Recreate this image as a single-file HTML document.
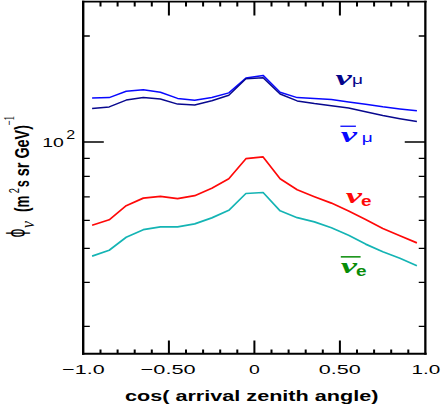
<!DOCTYPE html><html><head><meta charset="utf-8"><title>flux</title><style>html,body{margin:0;padding:0;background:#fff;font-family:"Liberation Sans",sans-serif}svg{display:block}</style></head><body>
<svg width="441" height="405" viewBox="0 0 441 405">
<rect width="441" height="405" fill="#fff"/>
<polyline points="92.1,97.9 109.2,97.6 126.2,91.3 143.3,89.8 160.4,92.2 177.6,98.4 194.7,100.3 211.8,97.5 228.8,92.9 245.9,78.1 263.1,75.4 280.1,92.3 297.2,97.6 314.4,98.4 331.4,99.5 348.6,101.9 365.6,104.3 382.8,106.8 399.9,108.9 416.9,110.7" fill="none" stroke="#0808ff" stroke-width="1.5" stroke-linejoin="round"/>
<polyline points="92.1,108.5 109.2,106.9 126.2,100.1 143.3,97.4 160.4,99.0 177.6,104.1 194.7,104.9 211.8,100.7 228.8,95.3 245.9,78.7 263.1,77.7 280.1,94.0 297.2,100.9 314.4,103.6 331.4,105.8 348.6,108.1 365.6,111.8 382.8,115.5 399.9,118.7 416.9,121.6" fill="none" stroke="#08088e" stroke-width="1.5" stroke-linejoin="round"/>
<polyline points="92.1,225.2 109.2,219.8 126.2,205.7 143.3,198.1 160.4,196.3 177.6,198.7 194.7,195.7 211.8,188.3 228.8,178.7 245.9,158.7 263.1,156.9 280.1,178.7 297.2,189.8 314.4,196.7 331.4,203.1 348.6,211.0 365.6,219.4 382.8,228.5 399.9,235.7 416.9,242.9" fill="none" stroke="#ff0808" stroke-width="1.7" stroke-linejoin="round"/>
<polyline points="92.1,256.1 109.2,250.2 126.2,237.3 143.3,229.7 160.4,226.9 177.6,226.8 194.7,223.9 211.8,217.9 228.8,210.3 245.9,193.5 263.1,192.5 280.1,210.8 297.2,217.7 314.4,221.9 331.4,227.8 348.6,235.2 365.6,244.1 382.8,251.8 399.9,258.2 416.9,265.8" fill="none" stroke="#14b4b4" stroke-width="1.7" stroke-linejoin="round"/>
<path d="M100.5 1.6v4.8M100.5 353.7v-4.3M117.6 1.6v4.8M117.6 353.7v-4.3M134.7 1.6v4.8M134.7 353.7v-4.3M151.8 1.6v4.8M151.8 353.7v-4.3M168.9 1.6v13.8M168.9 353.7v-13.3M186.0 1.6v4.8M186.0 353.7v-4.3M203.1 1.6v4.8M203.1 353.7v-4.3M220.2 1.6v4.8M220.2 353.7v-4.3M237.3 1.6v4.8M237.3 353.7v-4.3M254.4 1.6v13.8M254.4 353.7v-13.3M271.5 1.6v4.8M271.5 353.7v-4.3M288.6 1.6v4.8M288.6 353.7v-4.3M305.7 1.6v4.8M305.7 353.7v-4.3M322.8 1.6v4.8M322.8 353.7v-4.3M339.9 1.6v13.8M339.9 353.7v-13.3M357.0 1.6v4.8M357.0 353.7v-4.3M374.1 1.6v4.8M374.1 353.7v-4.3M391.2 1.6v4.8M391.2 353.7v-4.3M408.3 1.6v4.8M408.3 353.7v-4.3" stroke="#000" stroke-width="2" fill="none"/>
<path d="M83.2 36h6.6M425.35 36h-6.6M83.2 142h20.6M425.35 142h-20.6M83.2 158.3h6.6M425.35 158.3h-6.6M83.2 176.3h6.6M425.35 176.3h-6.6M83.2 196.8h6.6M425.35 196.8h-6.6M83.2 220.4h6.6M425.35 220.4h-6.6M83.2 248.3h6.6M425.35 248.3h-6.6M83.2 282.3h6.6M425.35 282.3h-6.6M83.2 326.3h6.6M425.35 326.3h-6.6" stroke="#000" stroke-width="1.3" fill="none"/>
<path d="M82.0 1.6H426.65000000000003" stroke="#000" stroke-width="1.7" fill="none"/>
<path d="M82.0 353.7H426.65000000000003" stroke="#000" stroke-width="2" fill="none"/>
<path d="M83.2 0.7500000000000001V354.7" stroke="#000" stroke-width="2.4" fill="none"/>
<path d="M425.35 0.7500000000000001V354.7" stroke="#000" stroke-width="2.3" fill="none"/>
<g font-family="Liberation Sans, sans-serif" font-size="13.5" fill="#000">
<text x="62.2" y="373.9" textLength="42.4" lengthAdjust="spacingAndGlyphs">−1.0</text>
<text x="140.7" y="373.9" textLength="55" lengthAdjust="spacingAndGlyphs">−0.50</text>
<text x="249" y="373.9" textLength="10.8" lengthAdjust="spacingAndGlyphs">0</text>
<text x="318.8" y="373.9" textLength="42" lengthAdjust="spacingAndGlyphs">0.50</text>
<text x="411.5" y="373.9" textLength="28.8" lengthAdjust="spacingAndGlyphs">1.0</text>
<text x="42.3" y="146.6" font-size="13.3" textLength="21.6" lengthAdjust="spacingAndGlyphs">10</text>
<text x="66.2" y="138.7" font-size="12" textLength="8.9" lengthAdjust="spacingAndGlyphs">2</text>
</g>
<text x="125" y="400.6" font-family="Liberation Sans, sans-serif" font-size="15.4" font-weight="bold" fill="#000" textLength="253.4" lengthAdjust="spacingAndGlyphs">cos( arrival zenith angle)</text>
<g font-family="Liberation Sans, DejaVu Sans, sans-serif" fill="#000">
<text transform="translate(24.5,237.6) rotate(-90)" font-size="26" textLength="9" lengthAdjust="spacingAndGlyphs">ϕ</text>
<text transform="translate(34.2,228) rotate(-90)" font-family="Liberation Serif, DejaVu Serif, serif" font-style="italic" font-size="18" textLength="7" lengthAdjust="spacingAndGlyphs">ν</text>
<text transform="translate(29.2,212) rotate(-90)" font-size="20" font-weight="bold" textLength="16.4" lengthAdjust="spacingAndGlyphs">(m</text>
<text transform="translate(18.5,193.2) rotate(-90)" font-size="15" textLength="5.2" lengthAdjust="spacingAndGlyphs">2</text>
<text transform="translate(29.2,187.3) rotate(-90)" font-size="20" font-weight="bold" textLength="7.1" lengthAdjust="spacingAndGlyphs">s</text>
<text transform="translate(29.2,176.2) rotate(-90)" font-size="20" font-weight="bold" textLength="51.2" lengthAdjust="spacingAndGlyphs">sr GeV)</text>
<text transform="translate(14,125.4) rotate(-90)" font-family="Liberation Serif, serif" font-size="15" textLength="9.4" lengthAdjust="spacingAndGlyphs">−1</text>
</g>
<text x="335.6" y="84.8" font-family="Liberation Serif, DejaVu Serif, serif" font-size="22" font-weight="bold" font-style="italic" fill="#04048a" textLength="16.2" lengthAdjust="spacingAndGlyphs">ν</text>
<text x="352" y="84" font-family="Liberation Sans, DejaVu Sans, sans-serif" font-size="13" fill="#04048a" textLength="11" lengthAdjust="spacingAndGlyphs">μ</text>
<text x="340.8" y="142.4" font-family="Liberation Serif, DejaVu Serif, serif" font-size="22" font-weight="bold" font-style="italic" fill="#0808ff" textLength="16.2" lengthAdjust="spacingAndGlyphs">ν</text>
<rect x="340.4" y="125.6" width="15.5" height="1.3" fill="#0808ff"/>
<text x="361.7" y="141.9" font-family="Liberation Sans, DejaVu Sans, sans-serif" font-size="13" fill="#0808ff" textLength="11" lengthAdjust="spacingAndGlyphs">μ</text>
<text x="345.8" y="203.1" font-family="Liberation Serif, DejaVu Serif, serif" font-size="22" font-weight="bold" font-style="italic" fill="#ff0808" textLength="16.2" lengthAdjust="spacingAndGlyphs">ν</text>
<text x="361" y="206.2" font-family="Liberation Sans, sans-serif" font-size="15" font-weight="bold" fill="#ff0808" textLength="10.5" lengthAdjust="spacingAndGlyphs">e</text>
<text x="340.8" y="273.2" font-family="Liberation Serif, DejaVu Serif, serif" font-size="22" font-weight="bold" font-style="italic" fill="#088c08" textLength="16.2" lengthAdjust="spacingAndGlyphs">ν</text>
<rect x="340.8" y="256.1" width="19.8" height="1.5" fill="#088c08"/>
<text x="356" y="275.9" font-family="Liberation Sans, sans-serif" font-size="15" font-weight="bold" fill="#088c08" textLength="10.5" lengthAdjust="spacingAndGlyphs">e</text>
</svg></body></html>
